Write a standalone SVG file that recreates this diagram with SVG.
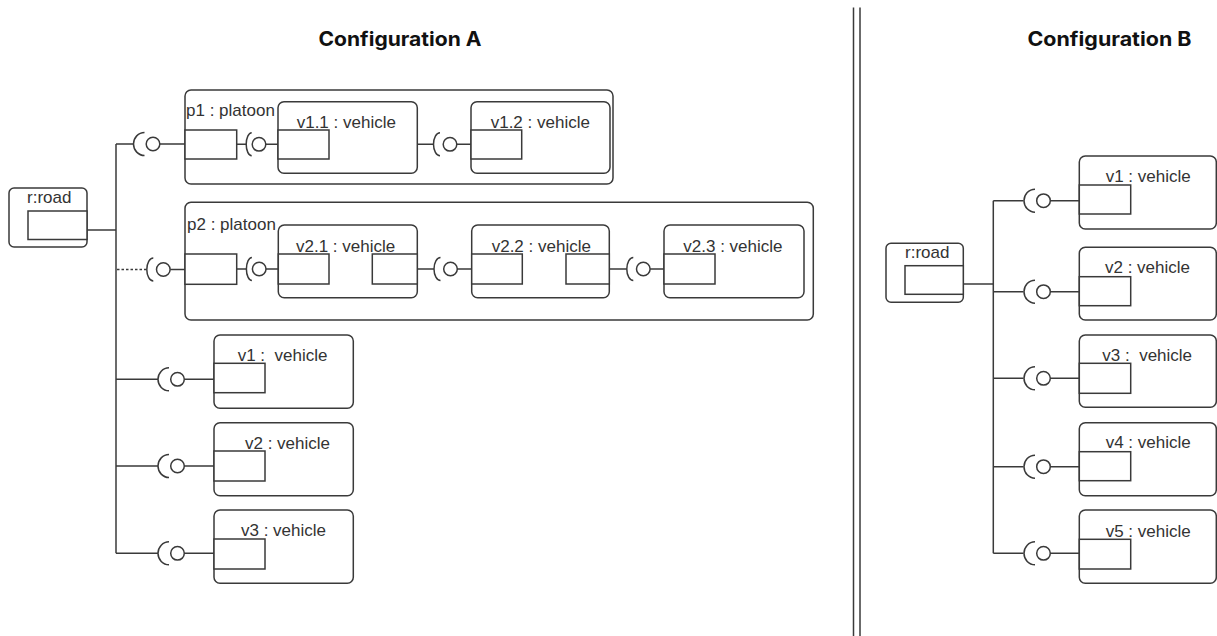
<svg xmlns="http://www.w3.org/2000/svg" xmlns:xlink="http://www.w3.org/1999/xlink" width="1217" height="636" viewBox="0 0 1217 636">
<style>
.bx{fill:#fff;stroke:#3a3a3a;stroke-width:1.5}
.pt{fill:#fff;stroke:#3a3a3a;stroke-width:1.5}
.ln{fill:none;stroke:#3a3a3a;stroke-width:1.5}
.dl{fill:none;stroke:#3a3a3a;stroke-width:1.5;stroke-dasharray:2.5 2}
.lb{font-family:"Liberation Sans",Arial,sans-serif;font-size:17px;fill:#333;white-space:pre}
.tt{font-family:Inter,"Liberation Sans",sans-serif;font-size:20px;font-weight:700;fill:#111;text-anchor:middle}
.sk path{fill:none;stroke:#3a3a3a;stroke-width:1.5}
.sk circle{fill:#fff;stroke:#3a3a3a;stroke-width:1.5}
</style>
<defs>
<g id="sk1" class="sk"><path d="M-8.5,-11.5 A 11 11.5 0 0 0 -8.5,11.5"/><circle r="6.8"/></g>
<g id="sk2" class="sk"><path d="M-10,-11.5 A 6.5 11.5 0 0 0 -10,11.5"/><circle r="6.8"/></g>
<g id="sk3" class="sk"><path d="M-7.3,-11.5 A 5.5 11.5 0 0 0 -7.3,11.5"/><circle r="6.8"/></g>
</defs>
<rect width="1217" height="636" fill="#fff"/>

<g id="titles">
<text class="tt" x="400" y="45.5" textLength="163" lengthAdjust="spacingAndGlyphs">Configuration A</text>
<text class="tt" x="1109.5" y="45.5" textLength="164" lengthAdjust="spacingAndGlyphs">Configuration B</text>
</g>
<g id="divider">
<line class="ln" x1="853.5" y1="7.5" x2="853.5" y2="636" stroke="#555"/>
<line class="ln" x1="860" y1="7.5" x2="860" y2="636" stroke="#555"/>
</g>

<!-- Configuration A -->
<g id="roadA">
<rect class="bx" x="9" y="188" width="78" height="59" rx="5"/>
<text class="lb" x="27" y="202.5">r:road</text>
<rect class="pt" x="28" y="211" width="59" height="28.5"/>
</g>
<g id="p1">
<rect class="bx" x="185" y="90" width="428" height="94" rx="6"/>
<text class="lb" x="186" y="116">p1 : platoon</text>
<rect class="pt" x="185" y="130" width="51.7" height="29"/>
</g>
<g id="v1_1">
<rect class="bx" x="278" y="101.7" width="139.3" height="71.6" rx="6"/>
<text class="lb" x="296.7" y="127.5">v1.1 : vehicle</text>
<rect class="pt" x="278" y="130" width="51" height="29"/>
</g>
<g id="v1_2">
<rect class="bx" x="471" y="101.7" width="139" height="71.6" rx="6"/>
<text class="lb" x="490.7" y="127.5">v1.2 : vehicle</text>
<rect class="pt" x="471" y="130" width="50.7" height="29"/>
</g>
<g id="p2">
<rect class="bx" x="185" y="202.3" width="628.3" height="117.7" rx="6"/>
<text class="lb" x="187" y="230">p2 : platoon</text>
<rect class="pt" x="185" y="254" width="51.7" height="30.3"/>
</g>
<g id="v2_1">
<rect class="bx" x="278.3" y="225" width="139" height="72.7" rx="6"/>
<text class="lb" x="296" y="251.5">v2.1 : vehicle</text>
<rect class="pt" x="278.3" y="254" width="50.7" height="30"/>
<rect class="pt" x="372.3" y="254" width="45" height="30"/>
</g>
<g id="v2_2">
<rect class="bx" x="471.7" y="225" width="137.6" height="72.7" rx="6"/>
<text class="lb" x="491.7" y="251.5">v2.2 : vehicle</text>
<rect class="pt" x="471.7" y="254" width="50.6" height="30"/>
<rect class="pt" x="566" y="254" width="43.3" height="30"/>
</g>
<g id="v2_3">
<rect class="bx" x="664" y="225" width="140" height="72.7" rx="6"/>
<text class="lb" x="683.3" y="251.5">v2.3 : vehicle</text>
<rect class="pt" x="664" y="254" width="51" height="30"/>
</g>
<g id="vA1">
<rect class="bx" x="214" y="335" width="139.3" height="73.3" rx="6"/>
<text class="lb" x="237.7" y="361">v1 :  vehicle</text>
<rect class="pt" x="214" y="363.3" width="51" height="29.4"/>
</g>
<g id="vA2">
<rect class="bx" x="214" y="422.7" width="139.3" height="73" rx="6"/>
<text class="lb" x="245" y="448.5">v2 : vehicle</text>
<rect class="pt" x="214" y="451" width="51" height="30"/>
</g>
<g id="vA3">
<rect class="bx" x="214" y="510" width="139.3" height="73.3" rx="6"/>
<text class="lb" x="241" y="536">v3 : vehicle</text>
<rect class="pt" x="214" y="539" width="51" height="30"/>
</g>

<!-- Configuration B -->
<g id="roadB">
<rect class="bx" x="886" y="243.3" width="77.3" height="59" rx="5"/>
<text class="lb" x="905" y="257.5">r:road</text>
<rect class="pt" x="905" y="265.7" width="58.3" height="28.6"/>
</g>
<g id="vB1">
<rect class="bx" x="1079.3" y="156" width="137" height="73" rx="6"/>
<text class="lb" x="1105.7" y="181.5">v1 : vehicle</text>
<rect class="pt" x="1079.3" y="185" width="51.4" height="29"/>
</g>
<g id="vB2">
<rect class="bx" x="1079.3" y="247.3" width="137" height="72.7" rx="6"/>
<text class="lb" x="1105" y="273">v2 : vehicle</text>
<rect class="pt" x="1079.3" y="276.7" width="51.4" height="29"/>
</g>
<g id="vB3">
<rect class="bx" x="1079.3" y="335" width="137" height="72.3" rx="6"/>
<text class="lb" x="1102.3" y="360.5">v3 :  vehicle</text>
<rect class="pt" x="1079.3" y="363.3" width="51.4" height="30"/>
</g>
<g id="vB4">
<rect class="bx" x="1079.3" y="422.7" width="137" height="73" rx="6"/>
<text class="lb" x="1105.7" y="448">v4 : vehicle</text>
<rect class="pt" x="1079.3" y="451.7" width="51.4" height="29"/>
</g>
<g id="vB5">
<rect class="bx" x="1079.3" y="510" width="137" height="73.3" rx="6"/>
<text class="lb" x="1105.7" y="536.5">v5 : vehicle</text>
<rect class="pt" x="1079.3" y="539.3" width="51.4" height="29.7"/>
</g>

<g id="connectors">
<!-- A bus -->
<path class="ln" d="M87,230 H116" stroke-width="2"/>
<path class="ln" d="M116,144 V553.3"/>
<path class="ln" d="M116,144 H133.5 M159.8,144 H185"/>
<use href="#sk1" x="153" y="144"/>
<path class="dl" d="M117,269.5 H146.8"/>
<path class="ln" d="M170.1,269.5 H185"/>
<use href="#sk2" x="163.3" y="269.5"/>
<path class="ln" d="M116,379.3 H158 M184.3,379.3 H214"/>
<use href="#sk1" x="177.5" y="379.3"/>
<path class="ln" d="M116,466 H158 M184.3,466 H214"/>
<use href="#sk1" x="177.5" y="466"/>
<path class="ln" d="M116,553.3 H158 M184.3,553.3 H214"/>
<use href="#sk1" x="177.5" y="553.3"/>
<!-- p1 inside -->
<path class="ln" d="M236.7,144.3 H246.5 M265.8,144.3 H278"/>
<use href="#sk3" x="259" y="144.3"/>
<path class="ln" d="M417.3,144.3 H433.5 M456.8,144.3 H471"/>
<use href="#sk2" x="450" y="144.3"/>
<!-- p2 inside -->
<path class="ln" d="M236.7,269 H246.7 M266,269 H278.3"/>
<use href="#sk3" x="259.2" y="269"/>
<path class="ln" d="M417.3,269 H434 M457.3,269 H471.7"/>
<use href="#sk2" x="450.5" y="269"/>
<path class="ln" d="M609.3,269 H626.8 M650.1,269 H664"/>
<use href="#sk2" x="643.3" y="269"/>
<!-- B bus -->
<path class="ln" d="M963.3,284 H993.3" stroke-width="2"/>
<path class="ln" d="M993.3,200.7 V553.3"/>
<path class="ln" d="M993.3,200.7 H1023.5 M1050.3,200.7 H1079.3"/>
<use href="#sk1" x="1043.5" y="200.7"/>
<path class="ln" d="M993.3,291.7 H1023.5 M1050.3,291.7 H1079.3"/>
<use href="#sk1" x="1043.5" y="291.7"/>
<path class="ln" d="M993.3,378.3 H1023.5 M1050.3,378.3 H1079.3"/>
<use href="#sk1" x="1043.5" y="378.3"/>
<path class="ln" d="M993.3,466.7 H1023.5 M1050.3,466.7 H1079.3"/>
<use href="#sk1" x="1043.5" y="466.7"/>
<path class="ln" d="M993.3,553.3 H1023.5 M1050.3,553.3 H1079.3"/>
<use href="#sk1" x="1043.5" y="553.3"/>
</g>
</svg>
